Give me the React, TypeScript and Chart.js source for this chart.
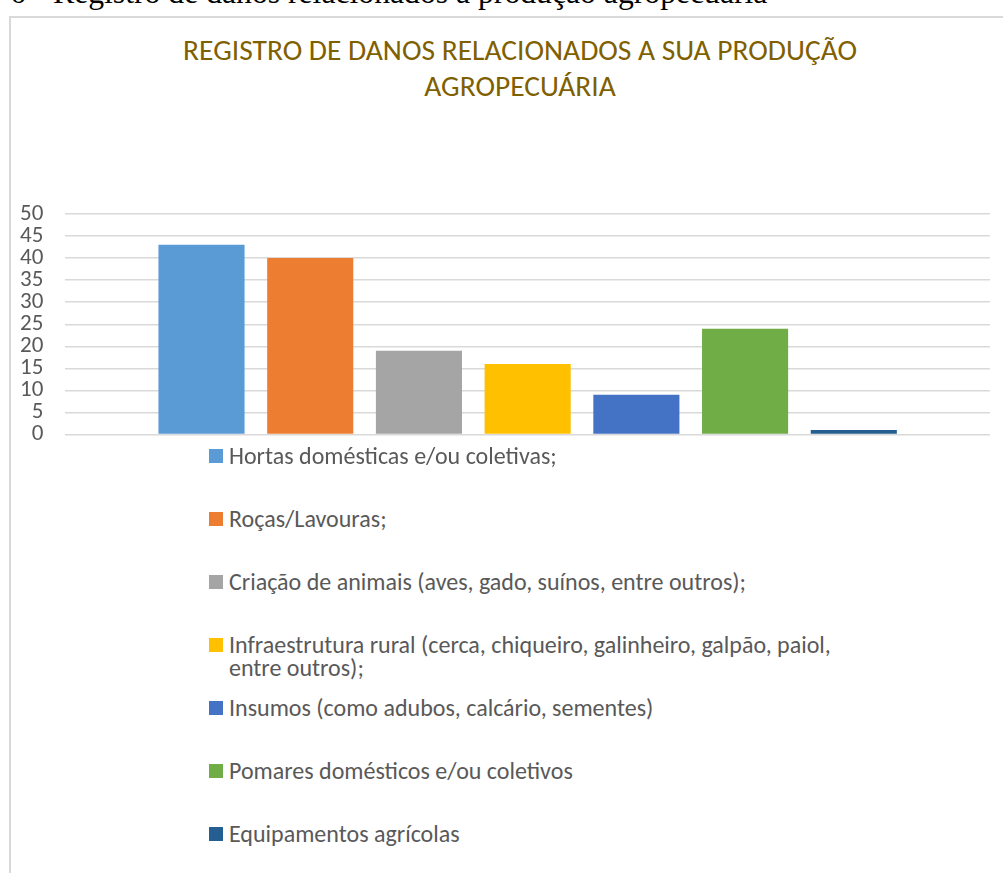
import React, { useEffect, useRef } from "react";
import { Chart, registerables } from "chart.js";

Chart.register(...registerables);

const titleLines = ["REGISTRO DE DANOS RELACIONADOS A SUA PRODUÇÃO", "AGROPECUÁRIA"];
const seriesNames = [
  "Hortas domésticas e/ou coletivas;",
  "Roças/Lavouras;",
  "Criação de animais (aves, gado, suínos, entre outros);",
  "Infraestrutura rural (cerca, chiqueiro, galinheiro, galpão, paiol, entre outros);",
  "Insumos (como adubos, calcário, sementes)",
  "Pomares domésticos e/ou coletivos",
  "Equipamentos agrícolas",
];
const seriesValues = [43, 40, 19, 16, 9, 24, 1];
const seriesColors = ["#5B9BD5", "#ED7D31", "#A5A5A5", "#FFC000", "#4472C4", "#70AD47", "#255E91"];
const categories = [""];
const yTicks = { min: 0, max: 50, step: 5 };
const captionNumber = "6 –";
const captionText = "Registro de danos relacionados à produção agropecuária";

const FONT = "Carlito, Calibri, Lato, sans-serif";
const TEXT = "#595959";

export default function App() {
  const ref = useRef<HTMLCanvasElement | null>(null);

  useEffect(() => {
    if (!ref.current) return;
    const chart = new Chart(ref.current, {
      type: "bar",
      data: {
        labels: categories,
        datasets: seriesNames.map((name, i) => ({
          label: name,
          data: [seriesValues[i]],
          backgroundColor: seriesColors[i],
          borderWidth: 0,
          barPercentage: 0.792,
          categoryPercentage: 0.823,
        })),
      },
      options: {
        responsive: false,
        animation: false,
        layout: { padding: { left: 0, right: 13, top: 197, bottom: 0 } },
        plugins: {
          legend: { display: false },
          tooltip: { enabled: false },
          title: { display: false },
        },
        scales: {
          x: {
            grid: { display: false, drawTicks: false },
            border: { display: false },
            ticks: { display: false },
          },
          y: {
            min: yTicks.min,
            max: yTicks.max,
            ticks: {
              stepSize: yTicks.step,
              autoSkip: false,
              color: TEXT,
              font: { family: FONT, size: 23, lineHeight: 1 },
              padding: 22,
            },
            grid: { color: "#D9D9D9", lineWidth: 1.5, drawTicks: false },
            border: { display: false },
          },
        },
      },
    });
    return () => chart.destroy();
  }, []);

  const serif: React.CSSProperties = {
    position: "absolute",
    top: -25,
    fontFamily: '"Liberation Serif", "Times New Roman", serif',
    fontSize: 31.7,
    color: "#000",
    whiteSpace: "nowrap",
    lineHeight: "36px",
  };

  return (
    <div style={{ position: "fixed", inset: 0, overflow: "hidden", background: "#fff" }}>
      <div style={{ ...serif, left: 10 }}>{captionNumber}</div>
      <div style={{ ...serif, left: 53 }}>{captionText}</div>
      <div
        style={{
          position: "absolute",
          left: 9,
          top: 16,
          width: 1010,
          height: 900,
          border: "2px solid #D9D9D9",
          boxSizing: "border-box",
        }}
      />
      <div
        style={{
          position: "absolute",
          left: 120,
          width: 800,
          top: 32,
          textAlign: "center",
          fontFamily: FONT,
          fontSize: 29.5,
          lineHeight: "36px",
          color: "#7F6000",
          whiteSpace: "nowrap",
        }}
      >
        {titleLines.map((t) => (
          <div key={t}>{t}</div>
        ))}
      </div>
      <canvas ref={ref} width={1005} height={451} style={{ position: "absolute", left: -2, top: 17 }} />
      {seriesNames.map((name, i) => (
        <div
          key={name}
          style={{
            position: "absolute",
            left: 209,
            top: 444 + i * 63,
            width: 640,
            display: "flex",
            alignItems: "flex-start",
            fontFamily: FONT,
            fontSize: 24,
            lineHeight: "23px",
            color: TEXT,
          }}
        >
          <span
            style={{
              display: "inline-block",
              width: 14,
              height: 14,
              background: seriesColors[i],
              marginTop: 5,
              marginRight: 6,
              flex: "0 0 auto",
            }}
          />
          <span style={{ width: 615 }}>{name}</span>
        </div>
      ))}
    </div>
  );
}
